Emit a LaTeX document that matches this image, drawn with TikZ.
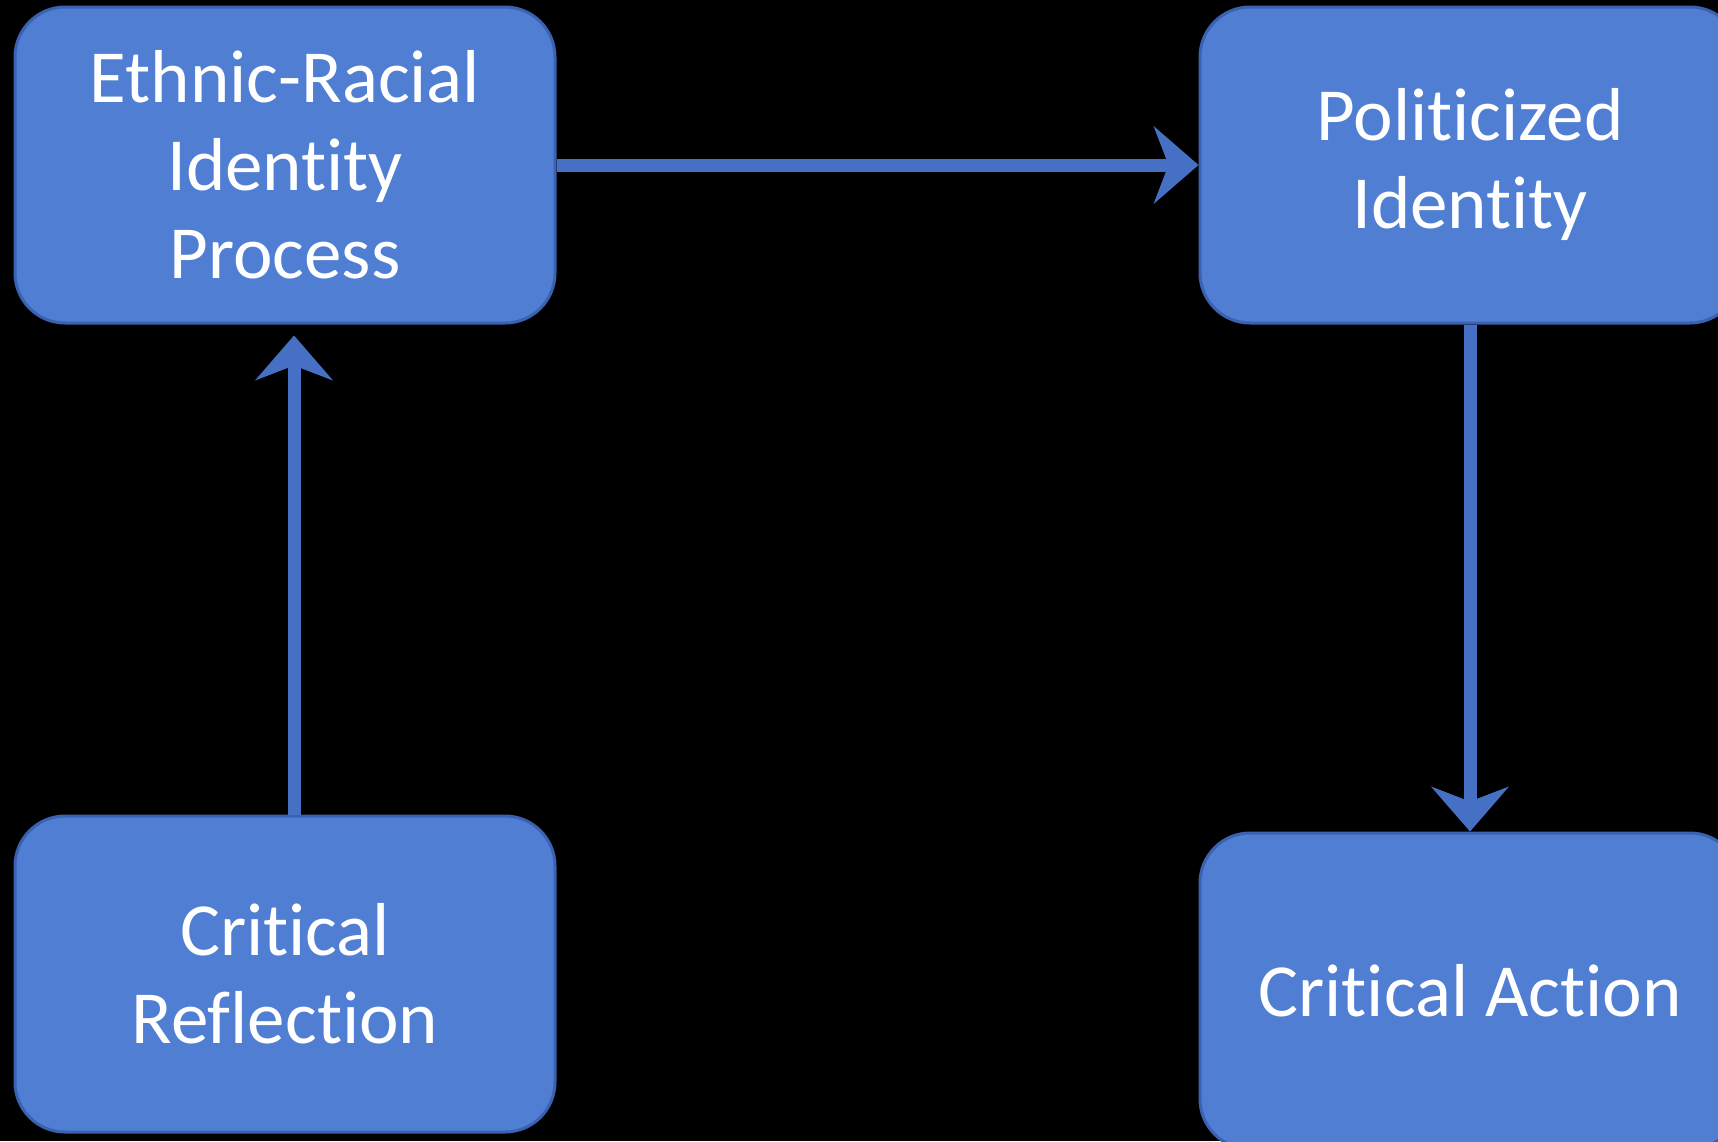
\documentclass[tikz,border=0pt]{standalone}
\usepackage{fontspec}
\setmainfont[Ligatures=NoCommon]{Carlito}
\usetikzlibrary{positioning, arrows.meta}

\definecolor{blockblue}{RGB}{79,126,210}
\definecolor{blockedge}{RGB}{58,98,176}
\definecolor{linkblue}{RGB}{70,112,196}

\tikzset{
    block/.style={draw=blockedge, line width=1.5pt, fill=blockblue, rounded corners=25pt,
        minimum width=270pt, minimum height=158pt, inner sep=0pt,
        text=white, align=center, font=\fontsize{37.5}{44}\selectfont},
    link/.style={draw=linkblue, line width=6.5pt,
        -{Stealth[length=22.5pt, width=39pt, inset=7.5pt, line width=0.5pt, fill=linkblue]}}
}

\begin{document}
\begin{tikzpicture}[x=0.5pt, y=-0.5pt]
        \useasboundingbox[fill=black] (0,0) rectangle (1718,1141);

        \node[block] (ERI) at (285,165) {Ethnic-Racial\\Identity\\Process};
        \node[block, right=321pt of ERI] (PI) {Politicized\\Identity};
        \node[block, below=245pt of ERI] (CR) {Critical\\Reflection};
        \node[block, below=253.5pt of PI] (CA) {Critical Action};

        \draw
            (ERI) edge[link] (PI)
            ([xshift=4.5pt]CR.north) edge[link] ([xshift=4.5pt, yshift=-5.5pt]ERI.south)
            (PI) edge[link] (CA)
            ;
    \end{tikzpicture}
\end{document}
